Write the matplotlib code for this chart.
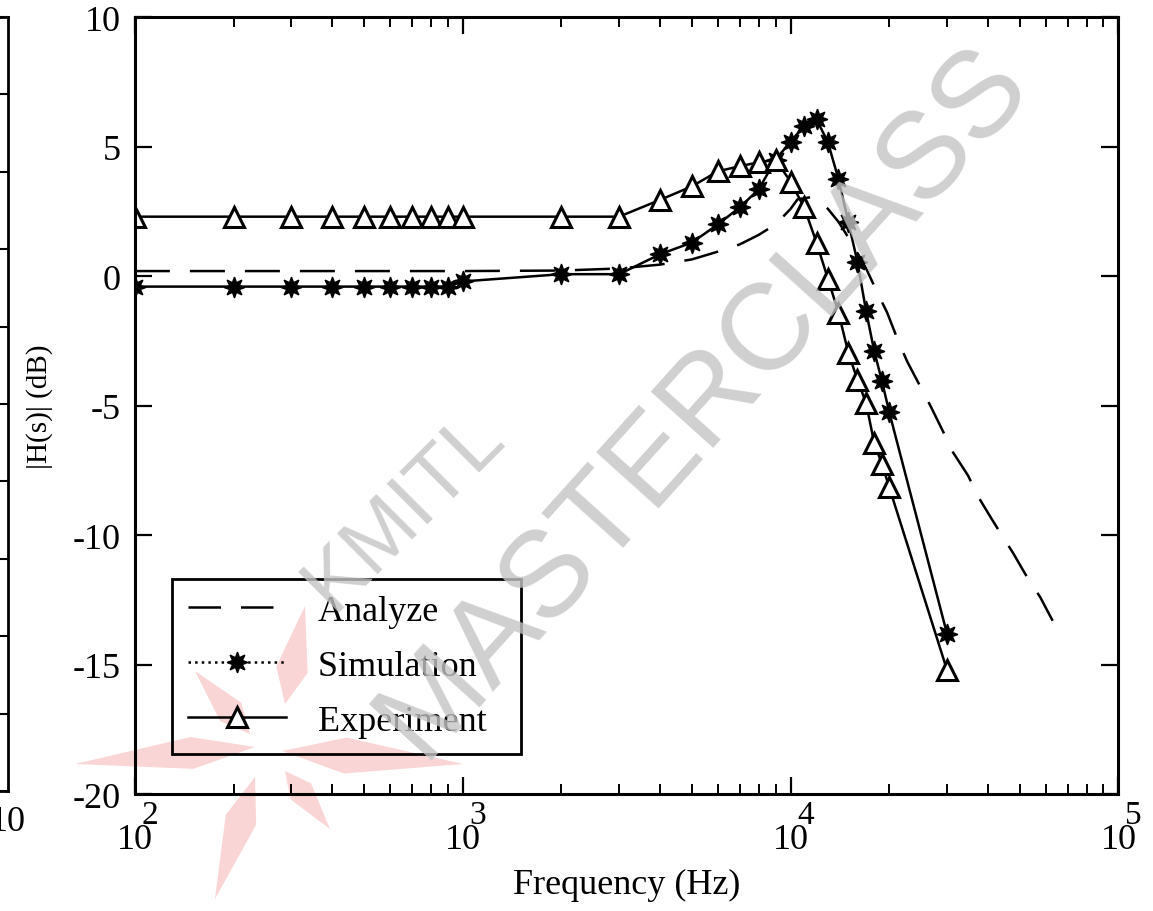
import numpy as np
import matplotlib
matplotlib.use("Agg")
import matplotlib.pyplot as plt
from matplotlib.lines import Line2D
from matplotlib.patches import Polygon
from matplotlib.ticker import LogLocator, MultipleLocator, NullFormatter, FuncFormatter

plt.rcParams['font.family'] = ['Liberation Serif', 'DejaVu Serif']
plt.rcParams['axes.unicode_minus'] = False

# Analyze (calculated response, dashed)
f_ana = [100, 1000, 2000, 3000, 4000, 5000, 6000, 7000, 8000, 9000, 10000, 10500,
         11500, 12500, 13000, 14000, 15000, 16000, 17000, 18500, 19700, 21300, 22700,
         26700, 29200, 31300, 34800, 37300, 41200, 43600, 47800, 52000, 57800, 63000]
db_ana = [0.2, 0.2, 0.22, 0.3, 0.45, 0.65, 0.95, 1.23, 1.6, 2.0, 2.6, 2.97,
          3.05, 2.8, 2.6, 2.1, 1.5, 0.9, 0.3, -0.7, -1.4, -2.5, -3.3,
          -5.0, -6.0, -6.8, -7.7, -8.5, -9.4, -9.9, -10.7, -11.5, -12.4, -13.3]

# Simulation
f_sim = [100, 200, 300, 400, 500, 600, 700, 800, 900, 1000, 2000, 3000, 4000, 5000,
         6000, 7000, 8000, 9000, 10000, 11000, 12000, 13000, 14000, 15000, 16000,
         17000, 18000, 19000, 20000, 30000]
db_sim = [-0.4, -0.4, -0.4, -0.4, -0.4, -0.4, -0.4, -0.4, -0.4, -0.2, 0.08, 0.08,
          0.85, 1.3, 2.0, 2.66, 3.36, 4.5, 5.2, 5.8, 6.06, 5.17, 3.75, 2.1, 0.54,
          -1.35, -2.9, -4.05, -5.25, -13.8]

# Experiment
f_exp = [100, 200, 300, 400, 500, 600, 700, 800, 900, 1000, 2000, 3000, 4000, 5000,
         6000, 7000, 8000, 9000, 10000, 11000, 12000, 13000, 14000, 15000, 16000,
         17000, 18000, 19000, 20000, 30000]
db_exp = [2.3, 2.3, 2.3, 2.3, 2.3, 2.3, 2.3, 2.3, 2.3, 2.3, 2.3, 2.3,
          2.95, 3.47, 4.05, 4.25, 4.4, 4.5, 3.65, 2.66, 1.3, -0.1, -1.4, -2.95, -4.0,
          -4.9, -6.45, -7.25, -8.15, -15.2]

decades = [1e2, 1e3, 1e4, 1e5]
exponents = ['2', '3', '4', '5']

W, H = 1153, 912
fig = plt.figure(figsize=(W / 100, H / 100), dpi=100)

# pink logo of the watermark (decoration, pixel coords)
petals = [((255, 748), (75, 765), 16), ((250, 735), (195, 672), 14),
          ((285, 705), (305, 607), 16), ((282, 752), (463, 765), 18),
          ((255, 778), (215, 900), 16), ((285, 772), (330, 830), 13)]
for (x0, y0), (x1, y1), hw in petals:
    dx, dy = x1 - x0, y1 - y0
    n = np.hypot(dx, dy)
    px, py = -dy / n * hw, dx / n * hw
    mx, my = x0 + 0.35 * dx, y0 + 0.35 * dy
    pts = [(x0, y0), (mx + px, my + py), (x1, y1), (mx - px, my - py)]
    pts = [(x / W, 1 - y / H) for x, y in pts]
    fig.patches.append(Polygon(pts, closed=True, transform=fig.transFigure,
                               facecolor='#f6baba', edgecolor='none', alpha=0.6,
                               zorder=-1))

# edge of the neighbouring panel, cut off at the left border
ax0 = fig.add_axes([-0.6, 0.1316, 0.6069, 0.8487])
ax0.patch.set_visible(False)
ax0.set_xscale('log')
ax0.set_xlim(1e2, 1e5)
ax0.set_ylim(0, 10)
ax0.yaxis.set_major_locator(MultipleLocator(1))
ax0.xaxis.set_major_locator(LogLocator(base=10))
ax0.xaxis.set_minor_formatter(NullFormatter())
ax0.xaxis.set_major_formatter(FuncFormatter(lambda v, p: '10'))
ax0.tick_params(axis='y', which='both', direction='in', right=True, length=9, width=1.5,
                labelleft=False)
ax0.tick_params(axis='x', which='both', direction='in', length=0, labelsize=26, pad=10)
for s in ax0.spines.values():
    s.set_linewidth(2)

ax = fig.add_axes([0.117, 0.128, 0.853, 0.852])
ax.patch.set_visible(False)
ax.plot(f_ana, db_ana, color='black', lw=1.8, dashes=(14, 8))
ax.plot(f_sim, db_sim, color='black', lw=1.8, marker=(8, 1, 0), ms=15)
ax.plot(f_exp, db_exp, color='black', lw=1.8, marker='^', ms=14, mfc='white', mew=2.2)

ax.set_xscale('log')
ax.set_xlim(1e2, 1e5)
ax.set_ylim(-20, 10)
ax.yaxis.set_major_locator(MultipleLocator(5))
ax.xaxis.set_major_locator(LogLocator(base=10))
ax.xaxis.set_minor_locator(LogLocator(base=10, subs=np.arange(2, 10)))
ax.xaxis.set_major_formatter(FuncFormatter(lambda v, p: '10'))
ax.xaxis.set_minor_formatter(NullFormatter())
ax.tick_params(axis='both', which='major', direction='in', top=True, right=True,
               length=12, width=1.6, labelsize=26)
ax.tick_params(axis='x', which='major', pad=21)
ax.tick_params(axis='y', which='major', pad=10)
ax.tick_params(axis='x', which='minor', direction='in', top=True, length=7, width=1.4)
for s in ax.spines.values():
    s.set_linewidth(2.2)

# exponents of the decade labels, drawn large and overlapping like the original
for d, e in zip(decades, exponents):
    ax.annotate(e, xy=(d, 0), xycoords=ax.get_xaxis_transform(), xytext=(11, -15),
                textcoords='offset points', ha='center', va='center', fontsize=24,
                annotation_clip=False)

ax.set_xlabel('Frequency (Hz)', fontsize=26, labelpad=8)
ax.set_ylabel('|H(s)| (dB)', fontsize=21, labelpad=14)

handles = [
    Line2D([], [], color='black', lw=1.8, dashes=(13, 8)),
    Line2D([], [], color='black', lw=1.8, ls=':', marker=(8, 1, 0), ms=15),
    Line2D([], [], color='black', lw=1.8, marker='^', ms=14, mfc='white', mew=2.2),
]
leg = ax.legend(handles, ['Analyze  ', 'Simulation  ', 'Experiment  '], loc='lower left',
                bbox_to_anchor=(0.0376, 0.0515), borderaxespad=0, fontsize=26,
                fancybox=False, edgecolor='black', handlelength=2.7,
                borderpad=0.45, labelspacing=0.6, handletextpad=0.9)
leg.get_frame().set_linewidth(2)
leg.get_frame().set_facecolor('none')
leg.get_frame().set_alpha(None)

# watermark
fig.text(0.61, 0.56, 'MASTERCLASS', rotation=48, fontsize=88, color='#c4c4c4',
         alpha=0.8, ha='center', va='center', family='Liberation Sans', zorder=10)
fig.text(0.35, 0.44, 'KMITL', rotation=45, fontsize=60, color='#c4c4c4',
         alpha=0.8, ha='center', va='center', family='Liberation Sans', zorder=10)

fig.savefig('out.png', dpi=100)
